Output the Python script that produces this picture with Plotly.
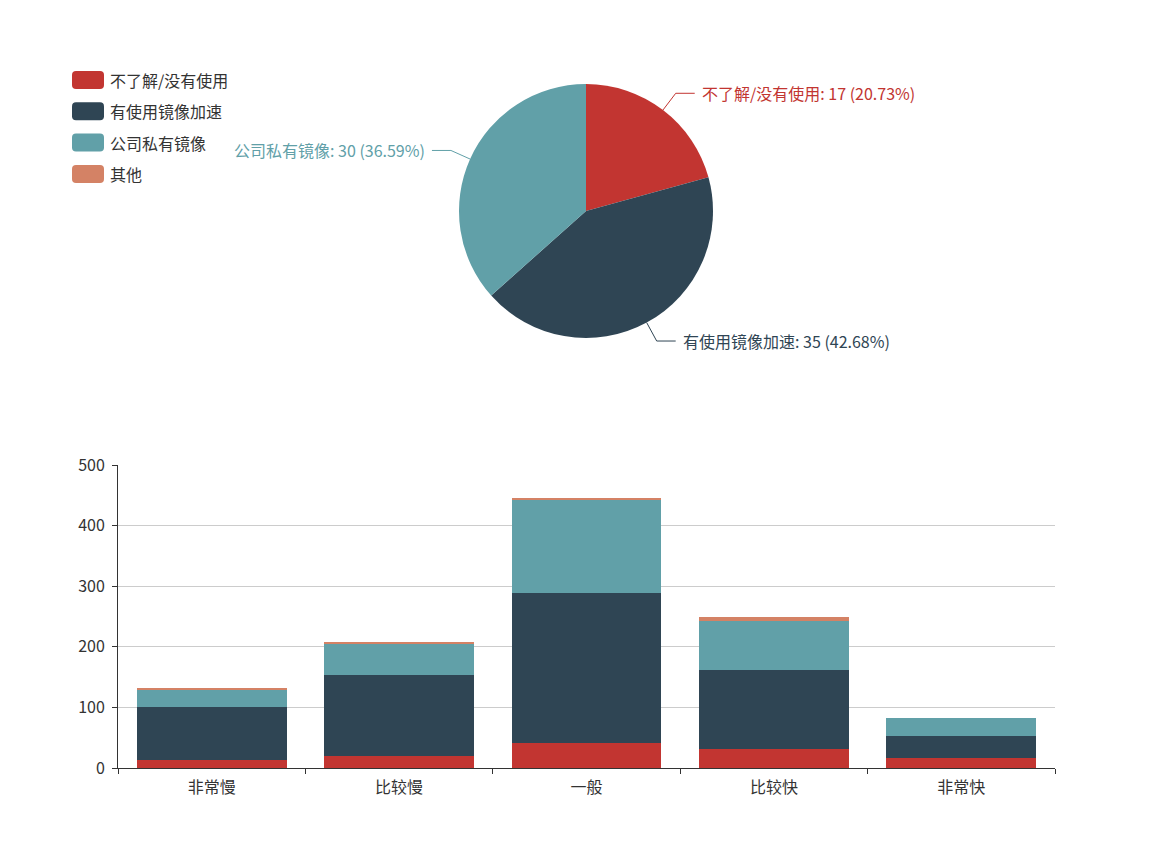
"""Pie of mirror usage plus stacked bars of download speed by usage type."""

import math
import plotly.graph_objects as go

W, H = 1171, 846

series_names = ["不了解/没有使用", "有使用镜像加速", "公司私有镜像", "其他"]
colors = ["#c23531", "#2f4554", "#61a0a8", "#d48265"]

pie_values = [17, 35, 30, 0]

speed_labels = ["非常慢", "比较慢", "一般", "比较快", "非常快"]
unknown_counts = [13, 20, 42, 31, 17]
accel_counts = [87, 133, 247, 130, 35]
private_counts = [30, 53, 154, 82, 30]
other_counts = [1, 1, 2, 6, 0]

y_ticks = [0, 100, 200, 300, 400, 500]

FONT = "Noto Sans CJK SC, Noto Sans, sans-serif"
TEXT = "#333333"
FS = 16

# pie geometry in pixels
cx, cy, r = 586, 211, 127


def px(x):
    return x / W


def py(y):
    return 1 - y / H


fig = go.Figure()

fig.add_trace(go.Pie(
    labels=series_names,
    values=pie_values,
    marker=dict(colors=colors, line=dict(width=0)),
    sort=False,
    direction="clockwise",
    rotation=0,
    textinfo="none",
    showlegend=False,
    domain=dict(x=[px(cx - r), px(cx + r)], y=[py(cy + r), py(cy - r)]),
))

bar_series = [unknown_counts, accel_counts, private_counts, other_counts]
for name, vals, col in zip(series_names, bar_series, colors):
    fig.add_trace(go.Bar(
        x=speed_labels,
        y=vals,
        name=name,
        marker=dict(color=col, line=dict(width=0)),
        showlegend=False,
        xaxis="x",
        yaxis="y",
    ))

shapes = []
annotations = []

# pie labels with leader lines, placed from the slice angles
total = sum(pie_values)
acc = 0
for name, v, col in zip(series_names, pie_values, colors):
    if v == 0:
        acc += v
        continue
    mid = (acc + v / 2) / total * 2 * math.pi
    acc += v
    sx, sy = math.sin(mid), -math.cos(mid)
    x0, y0 = cx + r * sx, cy + r * sy
    x1, y1 = cx + (r + 21) * sx, cy + (r + 21) * sy
    side = 1 if sx >= 0 else -1
    x2 = x1 + 19 * side
    shapes.append(dict(
        type="path", xref="paper", yref="paper",
        path=f"M {px(x0)},{py(y0)} L {px(x1)},{py(y1)} L {px(x2)},{py(y1)}",
        line=dict(color=col, width=1),
    ))
    pct = v / total * 100
    annotations.append(dict(
        xref="paper", yref="paper", x=px(x2 + 5 * side), y=py(y1),
        xanchor="left" if side > 0 else "right", yanchor="middle",
        text=f"{name}: {v} ({pct:.2f}%)", showarrow=False,
        font=dict(family=FONT, size=FS, color=col),
    ))

# legend drawn with rounded swatches
for i, (name, col) in enumerate(zip(series_names, colors)):
    yc = 80 + i * 31.3
    x0, x1, y0, y1 = 72, 104, yc - 9, yc + 9
    rr = 4
    path = (
        f"M {px(x0 + rr)},{py(y0)} L {px(x1 - rr)},{py(y0)} "
        f"Q {px(x1)},{py(y0)} {px(x1)},{py(y0 + rr)} L {px(x1)},{py(y1 - rr)} "
        f"Q {px(x1)},{py(y1)} {px(x1 - rr)},{py(y1)} L {px(x0 + rr)},{py(y1)} "
        f"Q {px(x0)},{py(y1)} {px(x0)},{py(y1 - rr)} L {px(x0)},{py(y0 + rr)} "
        f"Q {px(x0)},{py(y0)} {px(x0 + rr)},{py(y0)} Z"
    )
    shapes.append(dict(type="path", xref="paper", yref="paper", path=path,
                       fillcolor=col, line=dict(width=0)))
    annotations.append(dict(
        xref="paper", yref="paper", x=px(108), y=py(yc),
        xanchor="left", yanchor="middle", text=name, showarrow=False,
        font=dict(family=FONT, size=FS, color=TEXT),
    ))

fig.update_layout(
    width=W,
    height=H,
    autosize=False,
    margin=dict(l=0, r=0, t=0, b=0, pad=0, autoexpand=False),
    showlegend=False,
    paper_bgcolor="white",
    plot_bgcolor="white",
    font=dict(family=FONT, size=FS, color=TEXT),
    barmode="stack",
    bargap=0.2,
    shapes=shapes,
    annotations=annotations,
    xaxis=dict(
        domain=[px(118), px(1055)],
        anchor="y",
        automargin=False,
        showline=True, linecolor=TEXT, linewidth=1,
        ticks="outside", ticklen=5, tickcolor=TEXT,
        tickson="boundaries",
        ticklabelstandoff=5,
        showgrid=False,
        tickfont=dict(family=FONT, size=FS, color=TEXT),
    ),
    yaxis=dict(
        domain=[py(768), py(465)],
        anchor="x",
        automargin=False,
        range=[0, 500],
        tickvals=y_ticks,
        showline=True, linecolor=TEXT, linewidth=1,
        ticks="outside", ticklen=5, tickcolor=TEXT,
        ticklabelstandoff=4,
        showgrid=True, gridcolor="#cccccc", gridwidth=1,
        zeroline=False,
        tickfont=dict(family=FONT, size=FS, color=TEXT),
    ),
)

# page margin off so the figure sits at the window origin
fig.write_html(
    "out.html",
    config={"displayModeBar": False},
    post_script="document.body.style.margin='0';document.body.style.overflow='hidden';",
)
